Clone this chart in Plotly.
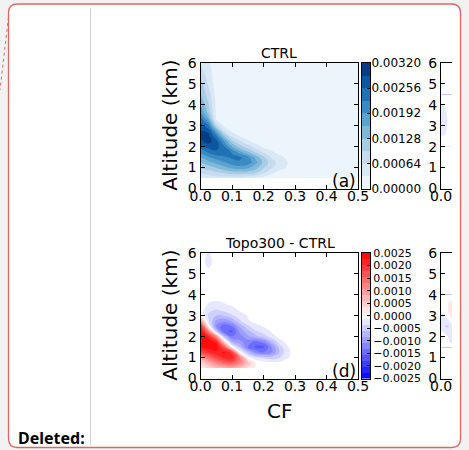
import numpy as np
import plotly.graph_objects as go

W, H = 469, 450

# ---------------- data ----------------
CF = [0, 0.025, 0.05, 0.075, 0.1, 0.125, 0.15, 0.175, 0.2, 0.225, 0.25, 0.275, 0.3, 0.35, 0.5]
ALT = [0.5, 0.75, 1.0, 1.25, 1.5, 1.75, 2.0, 2.25, 2.5, 2.75, 3.0, 3.25, 3.5, 4.0, 4.5, 5.0, 5.5, 6.0]

# CTRL joint frequency, units of 1e-4 (rows = ALT, cols = CF)
CTRL_E4 = [
    [4, 4, 5, 5, 5, 5, 4, 3, 2, 1, 0, 0, 0, 0, 0],
    [7, 8, 9, 10, 11, 11, 11, 10, 7, 4, 2, 1, 0, 0, 0],
    [10, 11, 13, 15, 17, 18, 17, 14, 10, 7, 5, 3, 0, 0, 0],
    [13, 15, 17, 19, 21, 22, 21, 17, 12, 8, 5, 3.5, 0.5, 0, 0],
    [16, 19, 21, 22, 23, 23, 20, 15, 10, 6, 4.5, 2, 0, 0, 0],
    [20, 23, 25, 25, 22, 17, 13, 9, 6, 4, 1.5, 0, 0, 0, 0],
    [24, 27, 27, 23, 16, 11, 8, 5, 2.5, 1, 0, 0, 0, 0, 0],
    [28, 30, 27, 19, 11, 7, 4, 2, 1, 0, 0, 0, 0, 0, 0],
    [29, 30, 23, 13, 6, 3, 1.5, 0.5, 0, 0, 0, 0, 0, 0, 0],
    [29, 28, 17, 6, 2.5, 1.5, 0.5, 0, 0, 0, 0, 0, 0, 0, 0],
    [27, 23, 9, 2.5, 1.5, 0.5, 0, 0, 0, 0, 0, 0, 0, 0, 0],
    [25, 18, 3.5, 1, 0.5, 0, 0, 0, 0, 0, 0, 0, 0, 0, 0],
    [21, 13, 2.5, 1, 0, 0, 0, 0, 0, 0, 0, 0, 0, 0, 0],
    [16, 10, 2.5, 0, 0, 0, 0, 0, 0, 0, 0, 0, 0, 0, 0],
    [13, 8, 2, 0, 0, 0, 0, 0, 0, 0, 0, 0, 0, 0, 0],
    [11, 6, 1.5, 0, 0, 0, 0, 0, 0, 0, 0, 0, 0, 0, 0],
    [8, 5, 1, 0, 0, 0, 0, 0, 0, 0, 0, 0, 0, 0, 0],
    [6, 4, 0.5, 0, 0, 0, 0, 0, 0, 0, 0, 0, 0, 0, 0],
]

# Topo300 - CTRL difference, units of 1e-4
DIFF_E4 = [
    [2, 4, 6, 7, 8, 6, 3, 1, 0, 0, 0, 0, 0, 0, 0],
    [4, 8, 12, 15, 16, 12, 6, 1, 0, -0.5, -0.5, 0, 0, 0, 0],
    [9, 14, 18, 21, 22, 13, 0, -3, -4, -5, -4, -1.5, 0, 0, 0],
    [18, 20, 22, 23, 19, 0, -6, -11, -13, -11, -6, -2, 0, 0, 0],
    [23, 24, 24, 17, 1, -6, -13, -16, -16, -11, -5, -1.5, 0, 0, 0],
    [25, 24, 22, 5, -8, -10, -12, -14, -12, -7, -2.5, -0.5, 0, 0, 0],
    [25, 22, 12, -6, -13, -12, -9, -7, -5, -2.5, -0.5, 0, 0, 0, 0],
    [25, 13, -5, -15, -16, -10, -7, -4, -2.5, -1, 0, 0, 0, 0, 0],
    [22, 1, -11, -15, -13, -8, -4, -2, -1, 0, 0, 0, 0, 0, 0],
    [10, -3, -9, -10, -8, -4, -1.5, -0.5, 0, 0, 0, 0, 0, 0, 0],
    [1, -4, -6, -6, -4, -2.5, -1, 0, 0, 0, 0, 0, 0, 0, 0],
    [0, -3, -4, -3, -2, -1, 0, 0, 0, 0, 0, 0, 0, 0, 0],
    [0, -1.5, -2, -1.5, -1, -0.5, 0, 0, 0, 0, 0, 0, 0, 0, 0],
    [0, 0, 0, 0, 0, 0, 0, 0, 0, 0, 0, 0, 0, 0, 0],
    [0, 0, 0, 0, 0, 0, 0, 0, 0, 0, 0, 0, 0, 0, 0],
    [0, 0, 0, 0, 0, 0, 0, 0, 0, 0, 0, 0, 0, 0, 0],
    [0, -2, 0, 0, 0, 0, 0, 0, 0, 0, 0, 0, 0, 0, 0],
    [0, -1.5, 0, 0, 0, 0, 0, 0, 0, 0, 0, 0, 0, 0, 0],
]

# third-column panels, only their left edge is visible
SIDE_CF = [0, 0.01, 0.02, 0.03, 0.04]
B_ALT = [2.0, 2.5, 3.0, 3.5, 4.0, 4.5]
B_E4 = [
    [0, 0, 0, 0, 0],
    [-1, -1, 0, 0, 0],
    [-3, -3.5, -1, 0, 0],
    [-3, -3, -1, 0, 0],
    [-1, -1, 0, 0, 0],
    [0, 0, 0, 0, 0],
]
E_ALT = [1.5, 2.0, 2.5, 3.0, 3.5, 4.0]
E_E4 = [
    [0, 0, 0, 0, 0],
    [0, 0, -1, -3, -3],
    [-2, -3.5, -4, -3, -1],
    [-2, -1, 0, 1.5, 2],
    [0, 0, 1, 2, 2],
    [0, 0, 0, 0, 0],
]

CTRL_LEVELS = [0, 0.00032, 0.00064, 0.00096, 0.00128, 0.0016, 0.00192, 0.00224, 0.00256, 0.00288, 0.0032]
CTRL_TICKS = [0, 0.00064, 0.00128, 0.00192, 0.00256, 0.0032]
DIFF_MIN, DIFF_MAX, DIFF_NBANDS = -0.0025, 0.0025, 21
DIFF_TICKS = [-0.0025, -0.002, -0.0015, -0.001, -0.0005, 0, 0.0005, 0.001, 0.0015, 0.002, 0.0025]
X_TICKS = [0, 0.1, 0.2, 0.3, 0.4, 0.5]
Y_TICKS = [0, 1, 2, 3, 4, 5, 6]

# ---------------- colours ----------------
BLUES = ['#f7fbff', '#deebf7', '#c6dbef', '#9ecae1', '#6baed6', '#4292c6', '#2171b5', '#08519c', '#08306b']
BWR = ['#0000ff', '#ffffff', '#ff0000']


def hex2rgb(h):
    h = h.lstrip('#')
    return np.array([int(h[i:i + 2], 16) for i in (0, 2, 4)], float)


def sample(cols, t):
    arr = [hex2rgb(c) for c in cols]
    pos = t * (len(arr) - 1)
    i = min(int(pos), len(arr) - 2)
    f = pos - i
    c = arr[i] * (1 - f) + arr[i + 1] * f
    return 'rgb(%d,%d,%d)' % tuple(np.round(c))


nb_a = len(CTRL_LEVELS) - 1
band_cols_a = [sample(BLUES, (k + 0.5) / nb_a) for k in range(nb_a)]
band_cols_d = [sample(BWR, (k + 0.5) / DIFF_NBANDS) for k in range(DIFF_NBANDS)]


def discrete_scale(cols):
    n = len(cols) - 1
    return [[k / n, c] for k, c in enumerate(cols)]


cs_a = discrete_scale(band_cols_a)
cs_d = discrete_scale(band_cols_d)
wd = (DIFF_MAX - DIFF_MIN) / DIFF_NBANDS
diff_edges = [DIFF_MIN + k * wd for k in range(DIFF_NBANDS + 1)]


def fx(px):
    return px / W


def fy(py):
    return 1 - py / H


fig = go.Figure()

ctrl = np.array(CTRL_E4) * 1e-4
diff = np.array(DIFF_E4) * 1e-4

fig.add_trace(go.Contour(
    x=CF, y=ALT, z=ctrl, xaxis='x', yaxis='y',
    colorscale=cs_a, showscale=False, autocontour=False,
    contours=dict(start=CTRL_LEVELS[1], end=CTRL_LEVELS[-2], size=CTRL_LEVELS[1] - CTRL_LEVELS[0],
                  coloring='fill', showlines=False),
    line=dict(width=0, smoothing=1.3), hoverinfo='skip'))

diff_contours = dict(start=diff_edges[1], end=diff_edges[-2], size=wd, coloring='fill', showlines=False)

fig.add_trace(go.Contour(
    x=CF, y=ALT, z=diff, xaxis='x4', yaxis='y4',
    colorscale=cs_d, showscale=False, autocontour=False, contours=diff_contours,
    line=dict(width=0, smoothing=1.3), hoverinfo='skip'))

fig.add_trace(go.Contour(
    x=SIDE_CF, y=B_ALT, z=np.array(B_E4) * 1e-4, xaxis='x3', yaxis='y3',
    colorscale=cs_d, showscale=False, autocontour=False, contours=diff_contours,
    line=dict(width=0, smoothing=1.3), hoverinfo='skip'))

fig.add_trace(go.Contour(
    x=SIDE_CF, y=E_ALT, z=np.array(E_E4) * 1e-4, xaxis='x6', yaxis='y6',
    colorscale=cs_d, showscale=False, autocontour=False, contours=diff_contours,
    line=dict(width=0, smoothing=1.3), hoverinfo='skip'))

# colour bars drawn as heatmaps
fig.add_trace(go.Heatmap(
    x=[0, 1], y=CTRL_LEVELS, z=[[k] for k in range(nb_a)], xaxis='x2', yaxis='y2',
    colorscale=cs_a, zmin=0, zmax=nb_a - 1, showscale=False, hoverinfo='skip'))
fig.add_trace(go.Heatmap(
    x=[0, 1], y=diff_edges, z=[[k] for k in range(DIFF_NBANDS)], xaxis='x5', yaxis='y5',
    colorscale=cs_d, zmin=0, zmax=DIFF_NBANDS - 1, showscale=False, hoverinfo='skip'))

FONT = 'DejaVu Sans'
base = dict(showline=True, linecolor='black', linewidth=1, ticks='inside', ticklen=4,
            tickwidth=1, tickcolor='black', showgrid=False, zeroline=False, automargin=False,
            tickfont=dict(family=FONT, size=14, color='black'))
xbase = dict(base, ticklabelstandoff=-5)

xa = [fx(200.5), fx(358)]
xcb = [fx(362), fx(370)]
xside = [fx(441), fx(452)]
ytop = [fy(188.5), fy(63)]
ybot = [fy(378.5), fy(253)]

fmt_a = ['%.5f' % v for v in CTRL_TICKS]
fmt_d = [('%.4f' % v).replace('-', '\u2212') if abs(v) > 1e-12 else '0.0000' for v in DIFF_TICKS]

layout_axes = dict(
    xaxis=dict(xbase, domain=xa, range=[0, 0.5], tickvals=X_TICKS, tickformat='.1f', anchor='y', mirror='ticks'),
    yaxis=dict(base, domain=ytop, range=[0, 6], tickvals=Y_TICKS, anchor='x', mirror='ticks'),
    xaxis2=dict(base, domain=xcb, range=[0, 1], ticks='', showticklabels=False, anchor='y2', mirror=True),
    yaxis2=dict(base, domain=ytop, range=[0, 0.0032], tickvals=CTRL_TICKS, ticktext=fmt_a, side='right',
                anchor='x2', mirror=True, ticklen=3, ticklabelstandoff=-2,
                tickfont=dict(family=FONT, size=12, color='black')),
    xaxis3=dict(xbase, domain=xside, range=[0, 0.035], tickvals=[0], tickformat='.1f', anchor='y3', mirror='ticks'),
    yaxis3=dict(base, domain=ytop, range=[0, 6], tickvals=Y_TICKS, anchor='x3', mirror=False),
    xaxis4=dict(xbase, domain=xa, range=[0, 0.5], tickvals=X_TICKS, tickformat='.1f', anchor='y4', mirror='ticks'),
    yaxis4=dict(base, domain=ybot, range=[0, 6], tickvals=Y_TICKS, anchor='x4', mirror='ticks'),
    xaxis5=dict(base, domain=xcb, range=[0, 1], ticks='', showticklabels=False, anchor='y5', mirror=True),
    yaxis5=dict(base, domain=ybot, range=[DIFF_MIN, DIFF_MAX], tickvals=DIFF_TICKS, ticktext=fmt_d, side='right',
                anchor='x5', mirror=True, ticklen=3, tickfont=dict(family=FONT, size=11, color='black')),
    xaxis6=dict(xbase, domain=xside, range=[0, 0.035], tickvals=[0], tickformat='.1f', anchor='y6', mirror='ticks'),
    yaxis6=dict(base, domain=ybot, range=[0, 6], tickvals=Y_TICKS, anchor='x6', mirror=False),
)


def ann(text, x, y, size, xanchor='center', yanchor='middle', angle=0, family=FONT, bold=False):
    t = '<b>%s</b>' % text if bold else text
    return dict(text=t, x=fx(x), y=fy(y), xref='paper', yref='paper', showarrow=False,
                xanchor=xanchor, yanchor=yanchor, textangle=angle,
                font=dict(family=family, size=size, color='black'))


annotations = [
    ann('CTRL', 279, 52.5, 14),
    ann('Topo300 - CTRL', 279.5, 242.5, 14),
    ann('Altitude (km)', 170, 125.75, 20, angle=-90),
    ann('Altitude (km)', 170, 315.75, 20, angle=-90),
    ann('(a)', 358, 180.5, 17, xanchor='right'),
    ann('(d)', 358, 370.5, 17, xanchor='right'),
    ann('CF', 279, 410.5, 20),
    ann('Deleted:', 16, 437.5, 16, xanchor='left', family='Noto Sans', bold=True),
]

# document chrome: rounded comment box, divider, connector
x0, x1, yt, yb = fx(8.5), fx(460.5), fy(4), fy(447.5)
rx, ry = 9 / W, 9 / H
box = ('M %f,%f L %f,%f Q %f,%f %f,%f L %f,%f Q %f,%f %f,%f L %f,%f Q %f,%f %f,%f L %f,%f Q %f,%f %f,%f Z' % (
    x0 + rx, yt, x1 - rx, yt, x1, yt, x1, yt - ry, x1, yb + ry, x1, yb, x1 - rx, yb,
    x0 + rx, yb, x0, yb, x0, yb + ry, x0, yt - ry, x0, yt, x0 + rx, yt))

shapes = [
    dict(type='path', path=box, xref='paper', yref='paper', fillcolor='white',
         line=dict(color='#e06666', width=1.3), layer='below'),
    dict(type='line', x0=fx(90.5), x1=fx(90.5), y0=fy(8), y1=fy(445), xref='paper', yref='paper',
         line=dict(color='#cfcfcf', width=1), layer='below'),
    dict(type='line', x0=fx(8.5), x1=fx(0), y0=fy(17), y1=fy(90), xref='paper', yref='paper',
         line=dict(color='#e06666', width=1, dash='dot'), layer='below'),
]

fig.update_layout(
    width=W, height=H, margin=dict(l=0, r=0, t=0, b=0, pad=0, autoexpand=False),
    paper_bgcolor='#f2f2f2', plot_bgcolor='white', showlegend=False,
    annotations=annotations, shapes=shapes, **layout_axes)

fig.write_html('out.html')
